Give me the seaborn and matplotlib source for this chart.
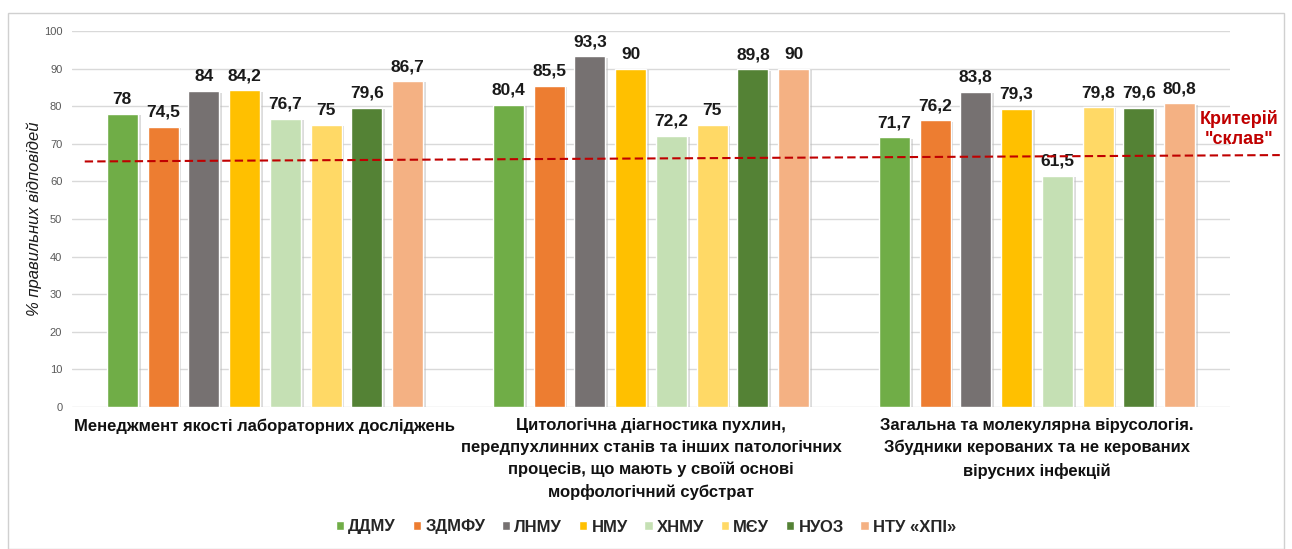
import pandas as pd
import matplotlib.pyplot as plt
import seaborn as sns
from matplotlib.patches import Rectangle, Patch
import matplotlib.transforms as mtransforms
import matplotlib.patheffects as pe

# data
topics = ['Менеджмент якості лабораторних досліджень',
          'Цитологічна діагностика пухлин,\nпередпухлинних станів та інших патологічних\nпроцесів, що мають у своїй основі\nморфологічний субстрат',
          'Загальна та молекулярна вірусологія.\nЗбудники керованих та не керованих\nвірусних інфекцій']
universities = ['ДДМУ', 'ЗДМФУ', 'ЛНМУ', 'НМУ', 'ХНМУ', 'МЄУ', 'НУОЗ', 'НТУ «ХПІ»']
scores_management = [78, 74.5, 84, 84.2, 76.7, 75, 79.6, 86.7]
scores_cytology = [80.4, 85.5, 93.3, 90, 72.2, 75, 89.8, 90]
scores_virology = [71.7, 76.2, 83.8, 79.3, 61.5, 79.8, 79.6, 80.8]
criterion = [65.3, 67.0]  # dashed "склав" line, left end / right end
colors = ['#70AD47', '#ED7D31', '#767171', '#FFC000', '#C5E0B4', '#FFD966', '#548235', '#F4B183']

rows = []
for topic, vals in zip(topics, [scores_management, scores_cytology, scores_virology]):
    for uni, v in zip(universities, vals):
        rows.append({'topic': topic, 'uni': uni, 'score': v})
df = pd.DataFrame(rows)

sns.set_style('white')
plt.rcParams['font.family'] = ['Liberation Sans', 'DejaVu Sans']

fig = plt.figure(figsize=(12.92, 5.49), dpi=100)
# outer chart frame
fig.patches.append(Rectangle((8 / 1292, 0.0), (1284 - 8) / 1292, 1 - 13 / 549,
                             transform=fig.transFigure, facecolor='white',
                             edgecolor='#d0d0d0', linewidth=1.0, zorder=-1))
ax = fig.add_axes([72 / 1292, 1 - 407 / 549, 1158 / 1292, 376 / 549])
ax.patch.set_alpha(0)

sns.barplot(data=df, x='topic', y='score', hue='uni', order=topics, hue_order=universities,
            palette=colors, width=0.845, gap=0.24, saturation=1, legend=False, ax=ax, zorder=2)

# light shadow to the right of each bar
for bar in ax.patches:
    bar.set_path_effects([pe.SimplePatchShadow(offset=(2, -1), shadow_rgbFace='#bbbbbb', alpha=0.5),
                          pe.Normal()])

for cont in ax.containers:
    ax.bar_label(cont, labels=[f'{v:g}'.replace('.', ',') for v in cont.datavalues],
                 padding=5, fontsize=12.5, fontweight='bold', color='#1a1a1a')

ax.set_ylim(0, 100)
ax.set_yticks(range(0, 101, 10))
ax.tick_params(axis='y', labelsize=8, colors='#595959', length=0, pad=7)
ax.yaxis.grid(True, color='#d9d9d9', linewidth=1)
ax.set_axisbelow(True)
for s in ax.spines.values():
    s.set_visible(False)
ax.set_xlim(-0.5, 2.5)
ax.set_xlabel('')
ax.set_ylabel('% правильних відповідей', fontsize=12, style='italic', color='#1a1a1a', labelpad=1)
ax.tick_params(axis='x', length=0, pad=8)
ax.set_xticks(range(len(topics)))
ax.set_xticklabels(topics, fontsize=12, fontweight='bold', color='#111111', linespacing=1.55, va='top')

# criterion line
trans = mtransforms.blended_transform_factory(ax.transAxes, ax.transData)
ax.plot([0.011, 1.043], criterion, transform=trans, color='#C00000', linestyle=(0, (4, 2)),
        linewidth=1.5, clip_on=False, zorder=3)
ax.text(1.008, 74, 'Критерій\n"склав"', transform=trans, color='#C00000', fontsize=13,
        fontweight='bold', ha='center', va='center', linespacing=1.2)

handles = [Patch(facecolor=c, label=u) for c, u in zip(colors, universities)]
fig.legend(handles=handles, loc='center', bbox_to_anchor=(0.5, 1 - 527 / 549), ncol=8,
           frameon=False, handlelength=0.5, handleheight=0.5, handletextpad=0.25,
           columnspacing=1.0, prop={'size': 12, 'weight': 'bold'})

fig.savefig('out.png', dpi=100)
